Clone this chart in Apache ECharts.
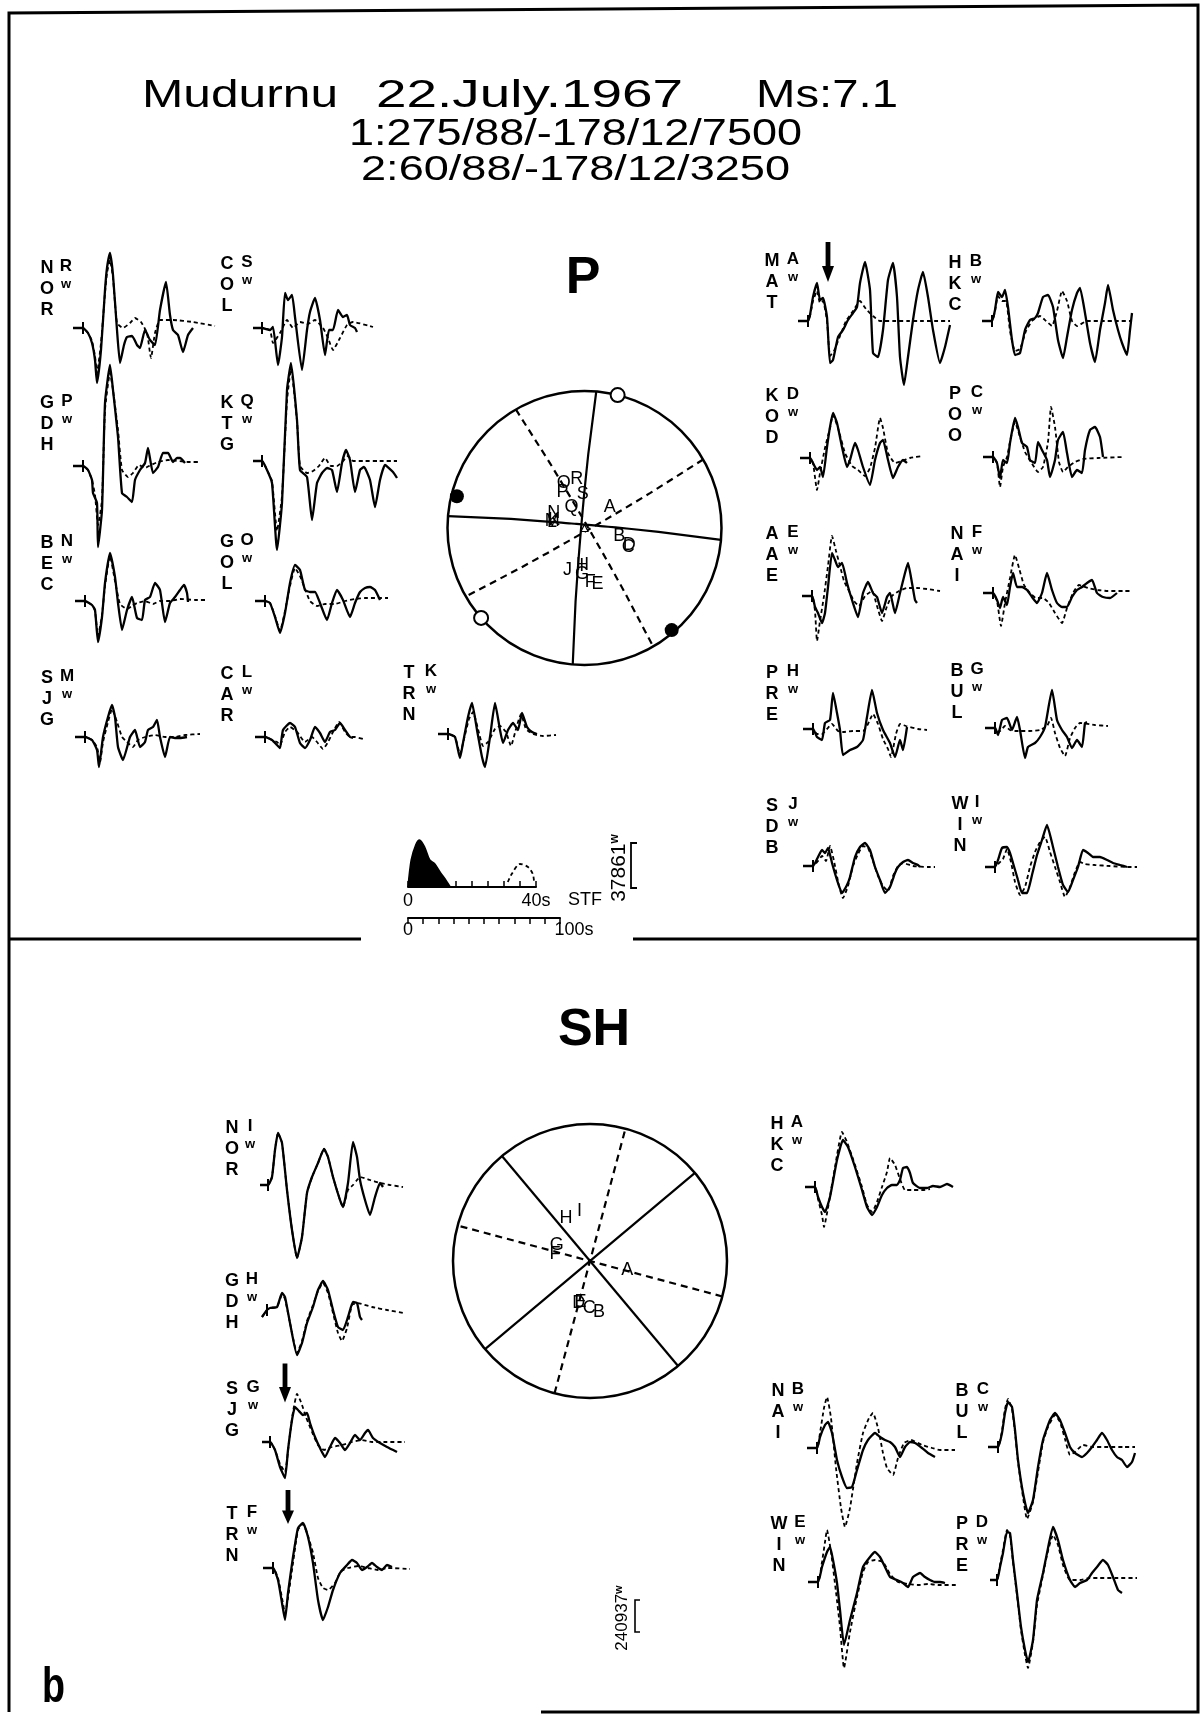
<!DOCTYPE html>
<html><head><meta charset="utf-8">
<script src="https://cdn.jsdelivr.net/npm/echarts/dist/echarts.min.js"></script>
<style>html,body{margin:0;padding:0;background:#fff}#c{width:1203px;height:1715px}</style>
</head><body><div id="c"></div>
<script>
// ---------------- DATA ----------------
const titleText = ['Mudurnu', '22.July.1967', 'Ms:7.1'];
const mechText = ['1:275/88/-178/12/7500', '2:60/88/-178/12/3250'];
const mechStrike = [275, 60];
const mechDip = [88, 88];
const mechRake = [-178, -178];

// P waveforms: [time sample (px), amplitude]
const pNOR_obs = [[0,0],[10,0],[15,-5],[19,-15],[22,-32],[24,-55],[28,-22],[32,38],[34,60],[37,75],[40,53],[44,-2],[47,-35],[51,-17],[54,-9],[59,-8],[64,-17],[67,-20],[72,-2],[77,-12],[82,-17],[87,18],[93,46],[97,13],[100,-2],[105,-7],[110,-24],[115,-7],[120,0]];
const pNOR_syn = [[0,0],[10,0],[15,-5],[19,-13],[22,-28],[24,-45],[28,-15],[32,35],[34,55],[37,68],[40,50],[44,5],[50,0],[57,5],[62,10],[68,6],[74,-5],[78,-30],[82,-5],[87,8],[100,8],[120,6],[142,2]];
const pCOL_obs = [[0,0],[9,0],[17,-2],[20,1],[25,-37],[29,-9],[32,35],[35,28],[39,33],[42,11],[49,-42],[54,-2],[57,16],[62,30],[67,8],[72,-27],[76,-2],[80,-2],[85,18],[90,11],[94,13],[97,3],[102,0],[104,-4]];
const pCOL_syn = [[0,0],[9,0],[17,-2],[20,-15],[27,-5],[34,8],[40,0],[47,6],[55,4],[62,8],[70,0],[75,-10],[80,-22],[87,-10],[94,3],[100,6],[120,1]];
const pGDH_obs = [[0,-1],[10,-1],[15,-5],[19,-15],[20,-28],[24,-38],[25,-82],[29,-45],[32,62],[37,100],[40,75],[45,28],[49,-28],[54,-32],[59,-37],[62,-15],[67,-5],[72,2],[75,17],[80,-8],[85,-2],[90,12],[95,12],[100,3],[104,7],[107,7],[112,2]];
const pGDH_syn = [[0,-1],[10,-1],[15,-5],[19,-15],[22,-30],[25,-60],[29,-35],[32,55],[37,92],[40,75],[45,35],[49,-5],[55,-12],[60,-8],[66,0],[72,-3],[78,0],[85,3],[95,5],[115,3],[125,3]];
const pKTG_obs = [[0,0],[9,0],[14,-9],[19,-22],[24,-89],[29,-42],[34,71],[38,98],[44,41],[47,-9],[54,-16],[59,-59],[64,-22],[69,-12],[74,-7],[79,-9],[84,-31],[89,-2],[93,11],[97,1],[102,-31],[107,-9],[111,-6],[117,-19],[122,-46],[127,-19],[132,-4],[140,-11],[144,-17]];
const pKTG_syn = [[0,0],[9,0],[14,-9],[19,-20],[24,-70],[29,-35],[34,60],[38,92],[44,40],[47,-5],[54,-12],[60,-10],[66,-5],[72,3],[78,-5],[84,-5],[90,0],[95,5],[100,0],[110,0],[125,0],[144,0]];
const pBEC_obs = [[0,0],[10,0],[17,-4],[20,-9],[23,-41],[27,-16],[30,18],[35,48],[40,24],[43,-2],[47,-29],[52,-9],[57,4],[62,-17],[67,-19],[70,1],[75,4],[80,18],[85,11],[90,-21],[95,-2],[100,4],[105,11],[109,16],[112,8],[113,-1]];
const pBEC_syn = [[0,0],[10,0],[17,-4],[20,-10],[23,-35],[27,-14],[30,15],[35,45],[40,20],[45,-3],[52,-8],[57,-5],[62,-2],[70,0],[78,-3],[85,0],[95,0],[105,2],[120,1],[130,1]];
const pGOL_obs = [[0,0],[10,0],[15,-2],[20,-16],[25,-32],[30,-12],[35,18],[40,36],[45,31],[50,11],[55,9],[60,9],[65,-2],[72,-19],[77,-2],[82,11],[88,1],[95,-16],[100,-2],[105,9],[110,13],[115,14],[120,11],[125,1]];
const pGOL_syn = [[0,0],[10,0],[15,-2],[20,-15],[25,-30],[30,-10],[35,15],[40,33],[45,25],[50,12],[55,0],[62,-5],[70,-3],[80,-3],[90,0],[100,2],[110,3],[120,3],[133,3]];
const pSJG_obs = [[0,0],[10,0],[17,-3],[22,-13],[24,-30],[28,0],[33,20],[37,32],[40,20],[43,-10],[48,-23],[55,0],[60,7],[65,-10],[70,-5],[73,7],[78,10],[82,17],[85,0],[90,-20],[95,0],[100,-1],[105,-1],[112,0]];
const pSJG_syn = [[0,0],[10,0],[17,-3],[22,-10],[25,-25],[28,-5],[33,15],[37,28],[42,15],[47,0],[52,-5],[58,-10],[63,-3],[70,0],[80,2],[90,0],[100,0],[110,2],[125,3]];
const pCAR_obs = [[0,0],[10,0],[17,-3],[22,-8],[25,-11],[28,7],[35,14],[40,10],[45,-6],[50,-11],[55,-3],[60,10],[65,4],[70,-5],[75,5],[80,7],[85,14],[90,7],[95,0],[98,-1]];
const pCAR_syn = [[0,0],[10,0],[17,-3],[22,-5],[25,-8],[30,5],[35,10],[42,5],[50,-5],[57,0],[62,-5],[68,-12],[73,-5],[78,5],[84,15],[90,5],[95,0],[100,0],[108,-2]];
const pTRN_obs = [[0,0],[10,0],[17,-3],[22,-24],[25,-9],[30,17],[34,31],[39,4],[44,-23],[47,-33],[52,-3],[57,31],[62,4],[65,-9],[70,4],[75,11],[80,4],[84,21],[89,7],[94,2],[99,0]];
const pTRN_syn = [[0,0],[10,0],[17,-3],[22,-20],[26,-5],[31,15],[35,22],[40,5],[45,-12],[50,-8],[57,5],[62,8],[68,2],[73,-12],[78,5],[83,20],[88,5],[95,0],[105,-2],[118,-1]];
const pMAT_obs = [[0,0],[10,0],[12,6],[15,24],[19,38],[22,21],[25,23],[29,4],[32,-42],[35,-39],[40,-16],[45,-9],[50,1],[55,8],[59,14],[62,38],[67,59],[72,31],[75,-32],[80,-36],[85,-9],[90,41],[95,58],[99,24],[102,-36],[106,-64],[110,-36],[115,1],[120,31],[125,49],[130,24],[135,-9],[142,-42],[147,-26],[152,-4]];
const pMAT_syn = [[0,0],[10,0],[12,5],[15,20],[19,30],[22,18],[25,20],[29,0],[32,-35],[36,-30],[42,-15],[48,0],[55,10],[62,20],[68,12],[75,5],[82,0],[95,0],[110,0],[125,0],[140,0],[152,0]];
const pHKC_obs = [[0,0],[10,0],[13,11],[16,29],[20,24],[23,31],[26,14],[30,-19],[33,-34],[38,-32],[43,-9],[48,1],[53,3],[56,8],[61,24],[66,26],[71,14],[76,-19],[81,-37],[85,-16],[90,11],[95,28],[98,33],[103,8],[108,-22],[113,-41],[118,-9],[123,18],[126,36],[131,11],[136,-9],[140,-22],[145,-34],[148,-9],[150,8]];
const pHKC_syn = [[0,0],[10,0],[13,10],[16,25],[20,20],[24,20],[28,-10],[33,-30],[38,-28],[44,-10],[50,0],[58,5],[64,0],[70,-5],[75,10],[80,30],[85,20],[90,0],[95,-5],[105,0],[120,0],[135,0],[150,0]];
const pKOD_obs = [[0,0],[10,0],[13,-5],[17,-12],[20,-9],[23,-19],[27,11],[30,31],[33,45],[37,35],[42,11],[47,-9],[50,-2],[55,15],[58,8],[63,-9],[70,-27],[75,-2],[80,15],[83,18],[88,-2],[93,-20],[98,-9],[103,-2],[107,-5]];
const pKOD_syn = [[0,0],[10,0],[13,-5],[17,-32],[20,-15],[25,10],[30,30],[33,43],[38,30],[45,5],[52,-8],[58,-12],[65,-18],[70,-10],[75,10],[80,40],[83,30],[88,5],[95,-5],[102,-3],[110,0],[123,2]];
const pPOO_obs = [[0,0],[10,0],[14,-6],[17,-21],[20,-3],[24,-6],[27,14],[32,39],[35,30],[39,14],[44,10],[47,-3],[52,-6],[55,15],[59,7],[64,-3],[67,-20],[72,-3],[75,17],[80,25],[84,4],[89,-20],[94,-13],[99,-16],[102,7],[107,27],[112,30],[117,20],[120,0]];
const pPOO_syn = [[0,0],[10,0],[14,-6],[17,-30],[20,-10],[24,0],[28,20],[32,35],[37,20],[42,5],[48,-5],[55,-15],[60,-10],[65,15],[68,50],[72,30],[76,-5],[80,-15],[85,-10],[92,-5],[100,-2],[115,-1],[140,0]];
const pAAE_obs = [[0,0],[10,0],[13,-11],[16,-17],[20,-27],[23,-17],[26,9],[30,43],[33,36],[36,29],[40,33],[45,13],[50,-4],[56,-21],[61,3],[66,14],[71,3],[75,-1],[80,-17],[85,-1],[88,3],[93,-17],[98,3],[103,23],[106,33],[110,13],[113,-4],[115,-7]];
const pAAE_syn = [[0,0],[10,0],[13,-15],[15,-45],[18,-25],[22,0],[26,30],[30,60],[34,45],[38,30],[42,15],[47,5],[52,-5],[57,-10],[63,0],[70,5],[75,-10],[80,-25],[85,-10],[90,0],[97,5],[105,8],[115,8],[125,7],[138,5]];
const pNAI_obs = [[0,0],[10,0],[14,-7],[17,-15],[20,-4],[24,-12],[27,6],[30,20],[34,6],[39,6],[44,3],[49,-4],[54,-10],[59,0],[64,20],[69,3],[74,-10],[79,-14],[84,-14],[89,-4],[94,3],[99,6],[104,10],[109,13],[114,0],[120,-4],[127,-5],[134,0]];
const pNAI_syn = [[0,0],[10,0],[14,-8],[18,-33],[22,-10],[27,15],[32,38],[36,25],[41,8],[47,0],[53,-5],[60,-5],[66,-10],[72,-20],[79,-30],[84,-15],[90,0],[96,8],[105,5],[115,3],[125,2],[140,2],[149,2]];
const pPRE_obs = [[0,0],[10,0],[14,-8],[19,-11],[22,6],[27,9],[30,36],[34,16],[37,-1],[40,-26],[47,-21],[54,-18],[60,-11],[64,12],[69,39],[74,16],[80,-1],[87,-14],[92,-28],[97,-11],[100,-21],[104,2]];
const pPRE_syn = [[0,0],[10,0],[14,-5],[19,-5],[24,0],[29,5],[35,-2],[40,-3],[50,-2],[60,-2],[65,5],[70,15],[75,5],[80,-10],[85,-20],[88,-28],[93,-5],[97,5],[103,3],[115,0],[124,-1]];
const pBUL_obs = [[0,0],[10,0],[13,-7],[17,8],[22,10],[27,-2],[32,11],[35,-2],[40,-30],[43,-19],[50,-15],[55,-9],[60,1],[67,38],[72,8],[77,-2],[82,-9],[87,-20],[92,-12],[97,-19],[100,5],[102,6]];
const pBUL_syn = [[0,0],[10,0],[14,-4],[20,2],[25,-2],[30,-3],[35,-3],[45,-3],[55,-2],[62,2],[66,10],[70,-5],[75,-20],[80,-28],[85,-10],[90,0],[95,5],[110,3],[123,2]];
const pSDB_obs = [[0,0],[10,0],[15,9],[19,16],[22,13],[25,18],[29,3],[34,-14],[39,-27],[44,-19],[47,-11],[52,9],[57,19],[62,23],[67,16],[72,-1],[77,-14],[82,-27],[87,-21],[92,-7],[95,-1],[100,4],[105,6],[110,3],[115,1],[117,-1]];
const pSDB_syn = [[0,0],[10,0],[15,5],[19,10],[23,5],[27,20],[31,5],[36,-20],[40,-32],[45,-20],[50,0],[55,12],[60,20],[65,18],[70,5],[75,-10],[80,-20],[85,-25],[90,-10],[95,0],[100,3],[110,0],[125,-1],[132,-1]];
const pWIN_obs = [[0,0],[10,0],[13,7],[17,19],[22,20],[25,14],[28,4],[33,-13],[37,-26],[42,-26],[47,-8],[52,12],[57,27],[62,42],[68,20],[73,0],[78,-18],[83,-25],[88,-13],[93,0],[98,17],[103,14],[108,10],[115,10],[122,7],[128,4],[135,2],[142,0]];
const pWIN_syn = [[0,0],[10,0],[13,3],[18,8],[22,18],[26,5],[30,-15],[35,-28],[40,-20],[45,0],[50,15],[55,25],[60,30],[65,15],[70,0],[75,-15],[80,-30],[85,-20],[90,-5],[95,5],[100,3],[110,2],[125,1],[142,0],[152,0]];

// SH waveforms
const sNOR_obs = [[0,0],[8,0],[12,8],[15,35],[18,52],[22,42],[27,-5],[32,-45],[37,-73],[42,-52],[47,-8],[52,8],[58,22],[64,36],[68,28],[73,8],[80,-15],[83,-22],[88,2],[93,43],[97,28],[100,5],[105,-15],[110,-30],[115,-12],[120,2],[123,-2]];
const sNOR_syn = [[0,0],[8,0],[12,8],[15,35],[18,52],[22,42],[27,-5],[32,-45],[37,-73],[42,-52],[47,-8],[52,8],[58,22],[64,36],[68,28],[73,8],[80,-15],[83,-22],[88,-5],[93,0],[97,5],[100,8],[110,5],[120,2],[130,0],[143,-2]];
const sGDH_obs = [[0,-4],[5,3],[8,5],[15,6],[20,20],[23,16],[28,-10],[35,-42],[40,-30],[45,-10],[51,6],[56,23],[61,32],[66,23],[71,3],[76,-14],[81,-17],[86,-4],[91,11],[95,10],[98,-4],[100,-7]];
const sGDH_syn = [[0,-4],[5,3],[8,5],[15,6],[20,18],[23,14],[28,-10],[35,-40],[40,-28],[45,-8],[51,8],[56,22],[61,30],[66,20],[71,0],[76,-20],[80,-28],[85,-15],[90,8],[95,10],[110,6],[125,3],[141,0]];
const sSJG_obs = [[0,0],[8,0],[13,-8],[18,-25],[23,-36],[26,-8],[30,22],[33,35],[36,32],[41,27],[45,29],[48,19],[53,5],[58,-6],[63,-15],[68,-5],[73,4],[78,-1],[83,-8],[88,-1],[93,7],[98,2],[103,9],[106,12],[111,4],[118,-1],[125,-5],[135,-10]];
const sSJG_syn = [[0,0],[8,0],[13,-8],[18,-22],[23,-30],[27,0],[31,30],[35,48],[39,40],[44,25],[50,10],[56,-3],[62,-8],[70,-5],[80,-3],[90,0],[100,2],[110,0],[125,0],[143,0]];
const sTRN_obs = [[0,0],[10,0],[15,-12],[19,-35],[22,-52],[25,-25],[30,11],[35,40],[40,45],[45,31],[50,5],[55,-32],[60,-52],[65,-39],[70,-22],[77,-5],[84,3],[89,8],[94,5],[99,-2],[104,1],[109,5],[114,1],[119,-2],[124,3],[129,1]];
const sTRN_syn = [[0,0],[10,0],[15,-10],[19,-30],[22,-45],[25,-30],[30,5],[35,38],[40,44],[45,32],[50,15],[55,-10],[60,-20],[65,-22],[72,-15],[78,-3],[85,0],[95,2],[105,0],[115,-2],[125,0],[147,-1]];
const sHKC_obs = [[0,0],[10,0],[13,-10],[17,-20],[20,-25],[25,-10],[32,27],[38,47],[43,40],[50,20],[57,-3],[62,-20],[67,-28],[72,-20],[77,-8],[82,-1],[87,2],[92,2],[95,7],[98,19],[102,20],[105,14],[108,4],[115,-1],[122,-1],[128,1],[135,0],[142,3],[148,0]];
const sHKC_syn = [[0,0],[10,0],[13,-12],[17,-28],[19,-40],[24,-15],[30,20],[37,55],[42,45],[50,22],[57,0],[62,-18],[67,-25],[72,-15],[77,0],[82,15],[85,29],[90,22],[95,8],[100,-3],[108,-3],[118,-3],[125,-2]];
const sNAI_obs = [[0,0],[10,0],[13,11],[18,23],[21,26],[25,15],[30,-12],[35,-29],[40,-40],[45,-39],[50,-22],[56,-2],[61,8],[68,15],[73,11],[78,8],[83,6],[88,1],[93,-9],[98,1],[103,6],[108,5],[115,0],[121,-5],[128,-9]];
const sNAI_syn = [[0,0],[10,0],[13,15],[17,40],[20,51],[24,30],[29,-20],[34,-60],[38,-79],[43,-60],[50,-15],[56,15],[62,30],[66,35],[71,20],[76,-5],[80,-20],[86,-27],[91,-10],[97,5],[104,8],[115,3],[125,0],[133,-2],[148,-2]];
const sBUL_obs = [[0,0],[10,0],[14,14],[17,34],[20,45],[24,40],[27,17],[30,-13],[35,-46],[40,-66],[45,-53],[50,-20],[55,7],[62,27],[67,34],[72,27],[77,14],[82,0],[87,-6],[94,-10],[99,-6],[104,0],[109,7],[114,14],[119,7],[124,-3],[129,-10],[134,-13],[139,-20],[144,-15],[147,-6]];
const sBUL_syn = [[0,0],[10,0],[14,16],[17,38],[20,48],[24,38],[27,15],[30,-15],[35,-50],[39,-72],[45,-55],[50,-25],[55,5],[60,20],[67,32],[72,25],[77,8],[82,-8],[87,-5],[95,2],[105,0],[120,0],[135,0],[147,0]];
const sWIN_obs = [[0,0],[10,0],[14,15],[19,30],[22,35],[25,22],[29,-1],[32,-28],[36,-63],[42,-38],[49,-11],[55,15],[62,25],[67,30],[72,25],[77,15],[82,5],[89,2],[95,-1],[100,-5],[105,5],[112,9],[117,5],[122,2],[127,0],[132,0],[137,-1]];
const sWIN_syn = [[0,0],[10,0],[14,20],[17,40],[19,52],[23,30],[28,-10],[32,-45],[36,-86],[42,-50],[49,-15],[55,10],[60,20],[67,22],[75,20],[82,8],[90,0],[100,-2],[110,-3],[120,-2],[130,-3],[149,-3]];
const sPRE_obs = [[0,0],[7,0],[10,13],[13,27],[17,48],[20,47],[23,20],[27,-13],[31,-47],[35,-70],[38,-82],[43,-60],[47,-20],[53,7],[57,27],[63,53],[68,40],[73,20],[80,0],[85,-7],[90,-3],[97,0],[102,7],[107,13],[113,20],[118,15],[123,3],[128,-10],[132,-13]];
const sPRE_syn = [[0,0],[7,0],[10,15],[13,30],[17,50],[20,45],[23,18],[27,-15],[31,-50],[35,-75],[38,-88],[43,-62],[47,-25],[53,5],[57,25],[63,45],[68,35],[73,15],[80,0],[90,0],[100,2],[110,2],[125,2],[147,2]];

// Source time function (s, amplitude)
const stfT = [0, 1, 2.4, 3.6, 5.2, 6.8, 8.4, 10, 11.6, 13.2];
const stfA = [0, 27, 42, 47, 40, 27, 23, 15, 8, 0];
const stf2T = [31.2, 32.4, 35, 37.5, 39, 39.4];
const stf2A = [5, 13, 23, 20, 13, 5];
const stfTickLabels = {0: '0', 40: '40s'};
const timeTickLabels = {0: '0', 100: '100s'};
const pScaleText = ['37861', 'w'];
const shScaleText = ['240937', 'w'];

// Focal sphere: station letters (azimuth deg, normalized radius)
const pBallLetters = ['O','R','P','S','Q','N','M','L','K','A','B','D','C','J','H','I','G','F','E'];
const pBallAz =      [335,351,329,357,328,296,282,280,285, 50,103,111,114,202,183,184,183,174,167];
const pBallR =       [0.36,0.36,0.31,0.25,0.18,0.25,0.24,0.24,0.23,0.24,0.26,0.35,0.35,0.33,0.27,0.28,0.34,0.40,0.42];
const pPolAz = [14, 229, 284, 139.5];
const pPolR = [1.0, 1.0, 0.96, 0.98];
const pPolFilled = [false, false, true, true];
const shBallLetters = ['H','I','A','G','F','D','E','C','B'];
const shBallAz =      [331,348,104,296,281,195,193,181,170];
const shBallR =       [0.36,0.37,0.28,0.27,0.26,0.32,0.31,0.34,0.38];

// ---------------- LAYOUT (positions, not data) ----------------
// id: [traceX0, baselineY, codeCenterX, codeCapTop, supCenterX]
const layout = {
  pNOR:[73,328,47,262,66], pCOL:[253,328,227,258,247], pGDH:[73,465,47,397,67], pKTG:[253,461,227,397,247],
  pBEC:[75,601,47,537,67], pGOL:[255,601,227,536,247], pSJG:[75,737,47,672,67], pCAR:[255,737,227,668,247],
  pTRN:[438,734,409,667,431], pMAT:[798,321,772,255,793], pHKC:[982,321,955,257,976], pKOD:[800,458,772,390,793],
  pPOO:[983,457,955,388,977], pAAE:[802,596,772,528,793], pNAI:[983,593,957,528,977], pPRE:[803,729,772,667,793],
  pBUL:[985,728,957,665,977], pSDB:[803,866,772,800,793], pWIN:[985,867,960,798,977],
  sNOR:[260,1185,232,1122,250], sGDH:[262,1313,232,1275,252], sSJG:[262,1442,232,1383,253], sTRN:[263,1568,232,1508,252],
  sHKC:[805,1187,777,1118,797], sNAI:[807,1448,778,1385,798], sBUL:[988,1447,962,1385,983], sWIN:[808,1582,779,1518,800],
  sPRE:[990,1580,962,1518,982]
};
const waves = [
  ['pNOR','NOR','R',pNOR_obs,pNOR_syn],['pCOL','COL','S',pCOL_obs,pCOL_syn],['pGDH','GDH','P',pGDH_obs,pGDH_syn],
  ['pKTG','KTG','Q',pKTG_obs,pKTG_syn],['pBEC','BEC','N',pBEC_obs,pBEC_syn],['pGOL','GOL','O',pGOL_obs,pGOL_syn],
  ['pSJG','SJG','M',pSJG_obs,pSJG_syn],['pCAR','CAR','L',pCAR_obs,pCAR_syn],['pTRN','TRN','K',pTRN_obs,pTRN_syn],
  ['pMAT','MAT','A',pMAT_obs,pMAT_syn],['pHKC','HKC','B',pHKC_obs,pHKC_syn],['pKOD','KOD','D',pKOD_obs,pKOD_syn],
  ['pPOO','POO','C',pPOO_obs,pPOO_syn],['pAAE','AAE','E',pAAE_obs,pAAE_syn],['pNAI','NAI','F',pNAI_obs,pNAI_syn],
  ['pPRE','PRE','H',pPRE_obs,pPRE_syn],['pBUL','BUL','G',pBUL_obs,pBUL_syn],['pSDB','SDB','J',pSDB_obs,pSDB_syn],
  ['pWIN','WIN','I',pWIN_obs,pWIN_syn],
  ['sNOR','NOR','I',sNOR_obs,sNOR_syn],['sGDH','GDH','H',sGDH_obs,sGDH_syn],['sSJG','SJG','G',sSJG_obs,sSJG_syn],
  ['sTRN','TRN','F',sTRN_obs,sTRN_syn],['sHKC','HKC','A',sHKC_obs,sHKC_syn],['sNAI','NAI','B',sNAI_obs,sNAI_syn],
  ['sBUL','BUL','C',sBUL_obs,sBUL_syn],['sWIN','WIN','E',sWIN_obs,sWIN_syn],['sPRE','PRE','D',sPRE_obs,sPRE_syn]
];
// arrow annotations: [waveId, time, amplitude, height]
const arrows = [['pMAT',30,59,40],['sSJG',23,59,39],['sTRN',25,61,34]];

// ---------------- BUILD ----------------
const D = Math.PI / 180;
const FONT = 'Liberation Sans';
const mctx = document.createElement('canvas').getContext('2d');
function fitText(txt, font, x0, x1, cy) {
  mctx.font = font;
  const w = mctx.measureText(txt).width;
  return {type:'text', x:x0, y:cy, scaleX:(x1 - x0) / w, silent:true,
    style:{text:txt, font:font, fill:'#000', textAlign:'left', textVerticalAlign:'middle'}};
}
function planeCurve(strike, dip) {
  const pts = [];
  for (let a = 0; a <= 180; a += 2) {
    const p = Math.atan(Math.tan(dip * D) * Math.sin(a * D));
    const r = Math.SQRT2 * Math.sin((Math.PI / 2 - p) / 2);
    pts.push([r, ((strike + a) % 360 + 360) % 360]);
  }
  return pts;
}
function auxPlane(strike, dip, rake) {
  const f = strike * D, dl = dip * D, l = rake * D;
  let dx = Math.cos(l) * Math.cos(f) + Math.sin(l) * Math.cos(dl) * Math.sin(f);
  let dy = Math.cos(l) * Math.sin(f) - Math.sin(l) * Math.cos(dl) * Math.cos(f);
  let dz = -Math.sin(l) * Math.sin(dl);
  if (dz > 0) { dx = -dx; dy = -dy; dz = -dz; }
  return [((Math.atan2(-dx, dy) / D) + 360) % 360, Math.acos(-dz) / D];
}

const grid = [], xAxis = [], yAxis = [], series = [], graphic = [];

waves.forEach((w, i) => {
  const [id, code, sup, obs, syn] = w;
  const L = layout[id];
  grid.push({left:L[0], top:L[1] - 130, width:160, height:260});
  xAxis.push({gridIndex:i, type:'value', min:0, max:160, show:false});
  yAxis.push({gridIndex:i, type:'value', min:-130, max:130, show:false});
  const ser = {type:'line', xAxisIndex:i, yAxisIndex:i, data:obs, symbol:'none', smooth:0.15, silent:true,
    lineStyle:{color:'#000', width:2.3}, z:4};
  const arr = arrows.find(a => a[0] === id);
  if (arr) {
    ser.markPoint = {silent:true, symbol:'path://M3,0 L7,0 L7,24 L10,24 L5,40 L0,24 L3,24 Z', symbolSize:[12, arr[3]],
      symbolKeepAspect:false, itemStyle:{color:'#000', opacity:1}, label:{show:false},
      data:[{coord:[arr[1], arr[2]]}]};
  }
  series.push(ser);
  series.push({type:'line', xAxisIndex:i, yAxisIndex:i, data:syn, symbol:'none', smooth:0.15, silent:true,
    lineStyle:{color:'#000', width:1.8, type:[4,3]}, z:3});
  series.push({type:'scatter', xAxisIndex:i, yAxisIndex:i, data:[[obs[1][0], obs[1][1]]], symbol:'rect',
    symbolSize:[2,12], itemStyle:{color:'#000', opacity:1}, silent:true, z:5});
  // station labels
  graphic.push({type:'text', x:L[2], y:L[3] - 4, silent:true,
    style:{text:code.split('').join('\n'), font:'bold 18px ' + FONT, lineHeight:21, fill:'#000', textAlign:'center', textVerticalAlign:'top'}});
  graphic.push({type:'text', x:L[4], y:L[3] - 4, silent:true,
    style:{text:sup, font:'bold 17px ' + FONT, fill:'#000', textAlign:'center', textVerticalAlign:'top'}});
  graphic.push({type:'text', x:L[4], y:L[3] + 16, silent:true,
    style:{text:'w', font:'bold 13px ' + FONT, fill:'#000', textAlign:'center', textVerticalAlign:'top'}});
});

// STF grids
const gS = grid.length;
grid.push({left:408, top:827, width:128, height:60});
xAxis.push({gridIndex:gS, type:'value', min:0, max:40, interval:5,
  axisLine:{lineStyle:{color:'#000', width:2}}, axisTick:{inside:true, length:6, lineStyle:{color:'#000', width:1.5}},
  axisLabel:{color:'#000', fontFamily:FONT, fontSize:18, margin:5, formatter:v => stfTickLabels[v] || ''},
  splitLine:{show:false}});
yAxis.push({gridIndex:gS, type:'value', min:0, max:60, show:false});
series.push({type:'line', xAxisIndex:gS, yAxisIndex:gS, data:stfT.map((t, k) => [t, stfA[k]]), symbol:'none',
  smooth:0.3, lineStyle:{color:'#000', width:1.5}, areaStyle:{color:'#000', opacity:1}, silent:true});
series.push({type:'line', xAxisIndex:gS, yAxisIndex:gS, data:stf2T.map((t, k) => [t, stf2A[k]]), symbol:'none',
  smooth:0.3, lineStyle:{color:'#000', width:1.8, type:[4,3]}, silent:true});
const gT = grid.length;
grid.push({left:408, top:868, width:152, height:50});
xAxis.push({gridIndex:gT, type:'value', min:0, max:100, interval:10,
  axisLine:{lineStyle:{color:'#000', width:2}}, axisTick:{inside:false, length:6, lineStyle:{color:'#000', width:1.5}},
  axisLabel:{color:'#000', fontFamily:FONT, fontSize:18, margin:3,
    formatter:v => v === 100 ? '{r|' + timeTickLabels[v] + '}' : (timeTickLabels[v] || ''),
    rich:{r:{fontFamily:FONT, fontSize:18, color:'#000', padding:[0,0,0,28]}}},
  splitLine:{show:false}});
yAxis.push({gridIndex:gT, type:'value', min:0, max:1, show:false});

// focal spheres
const polar = [{center:[584.5, 528], radius:137}, {center:[590, 1261], radius:137}];
const angleAxis = [0, 1].map(k => ({polarIndex:k, type:'value', min:0, max:360, startAngle:90, clockwise:true,
  axisLine:{show:true, lineStyle:{color:'#000', width:2.5}}, axisTick:{show:false}, axisLabel:{show:false},
  splitLine:{show:false}, splitArea:{show:false}}));
const radiusAxis = [0, 1].map(k => ({polarIndex:k, type:'value', min:0, max:1, show:false}));

for (let m = 0; m < 2; m++) {
  const ls = m === 0 ? {color:'#000', width:2.2} : {color:'#000', width:2.2, type:[7,5]};
  const aux = auxPlane(mechStrike[m], mechDip[m], mechRake[m]);
  [planeCurve(mechStrike[m], mechDip[m]), planeCurve(aux[0], aux[1])].forEach(c => {
    series.push({type:'line', coordinateSystem:'polar', polarIndex:0, data:c, symbol:'none', lineStyle:ls, silent:true, z:2});
  });
  // SH nodal surfaces (vertical strike-slip: strike +/- 45 deg)
  [mechStrike[m] + 45, mechStrike[m] + 135].forEach(az => {
    series.push({type:'line', coordinateSystem:'polar', polarIndex:1,
      data:[[1, az % 360], [1, (az + 180) % 360]], symbol:'none', lineStyle:ls, silent:true, z:2});
  });
}
series.push({type:'scatter', coordinateSystem:'polar', polarIndex:0, symbol:'circle', symbolSize:14, silent:true, z:5,
  data:pPolAz.map((a, k) => ({value:[pPolR[k], a],
    itemStyle:pPolFilled[k] ? {color:'#000', opacity:1} : {color:'#fff', borderColor:'#000', borderWidth:2, opacity:1}}))});
series.push({type:'scatter', coordinateSystem:'polar', polarIndex:0, symbol:'triangle', symbolSize:7, silent:true, z:5,
  data:[[0, 0]], itemStyle:{color:'#fff', borderColor:'#000', borderWidth:1.2, opacity:1}});
const letterLabel = {show:true, position:'inside', formatter:'{b}', color:'#000', fontFamily:FONT, fontSize:18, opacity:1};
series.push({type:'scatter', coordinateSystem:'polar', polarIndex:0, symbolSize:1, silent:true, z:6,
  itemStyle:{color:'rgba(0,0,0,0)', opacity:1}, label:letterLabel,
  data:pBallLetters.map((s, k) => ({name:s, value:[pBallR[k], pBallAz[k]]}))});
series.push({type:'scatter', coordinateSystem:'polar', polarIndex:1, symbolSize:1, silent:true, z:6,
  itemStyle:{color:'rgba(0,0,0,0)', opacity:1}, label:letterLabel,
  data:shBallLetters.map((s, k) => ({name:s, value:[shBallR[k], shBallAz[k]]}))});

// ---------------- TEXT & FRAME ----------------
graphic.push(fitText(titleText[0], '39px ' + FONT, 142, 338, 96));
graphic.push(fitText(titleText[1], '39px ' + FONT, 376, 683, 96));
graphic.push(fitText(titleText[2], '39px ' + FONT, 756, 898, 96));
graphic.push(fitText(mechText[0], '36px ' + FONT, 349, 802, 135));
graphic.push(fitText(mechText[1], '35px ' + FONT, 361, 790, 170));
graphic.push({type:'text', x:583, y:279, silent:true, style:{text:'P', font:'bold 52px ' + FONT, fill:'#000', textAlign:'center', textVerticalAlign:'middle'}});
graphic.push({type:'text', x:594, y:1031, silent:true, style:{text:'SH', font:'bold 52px ' + FONT, fill:'#000', textAlign:'center', textVerticalAlign:'middle'}});
graphic.push(fitText('b', 'bold 50px ' + FONT, 42, 65, 1688));
graphic.push({type:'text', x:585, y:900, silent:true, style:{text:'STF', font:'18px ' + FONT, fill:'#000', textAlign:'center', textVerticalAlign:'middle'}});
graphic.push({type:'text', x:619, y:868, rotation:Math.PI / 2, silent:true,
  style:{text:'{a|' + pScaleText[0] + '}{b|' + pScaleText[1] + '}', fill:'#000', textAlign:'center', textVerticalAlign:'middle',
    rich:{a:{font:'21px ' + FONT, fill:'#000'}, b:{font:'bold 12px ' + FONT, fill:'#000', verticalAlign:'top'}}}});
graphic.push({type:'text', x:622, y:1618, rotation:Math.PI / 2, silent:true,
  style:{text:'{a|' + shScaleText[0] + '}{b|' + shScaleText[1] + '}', fill:'#000', textAlign:'center', textVerticalAlign:'middle',
    rich:{a:{font:'17px ' + FONT, fill:'#000'}, b:{font:'bold 11px ' + FONT, fill:'#000', verticalAlign:'top'}}}});
const stroke = (pts, w) => ({type:'polyline', silent:true, shape:{points:pts}, style:{stroke:'#000', lineWidth:w, fill:null}});
graphic.push(stroke([[637,843],[631,843],[631,888],[637,888]], 1.8));
graphic.push(stroke([[640,1600],[635,1600],[635,1632],[640,1632]], 1.6));
graphic.push(stroke([[9,1712],[9,13],[1198,5],[1198,1712],[541,1712]], 3));
graphic.push(stroke([[9,939],[361,939]], 3));
graphic.push(stroke([[633,939],[1198,939]], 3));

const chart = echarts.init(document.getElementById('c'), null, {renderer:'canvas', width:1203, height:1715});
chart.setOption({
  backgroundColor:'#fff', animation:false,
  grid, xAxis, yAxis, polar, angleAxis, radiusAxis, series, graphic
});
</script></body></html>
